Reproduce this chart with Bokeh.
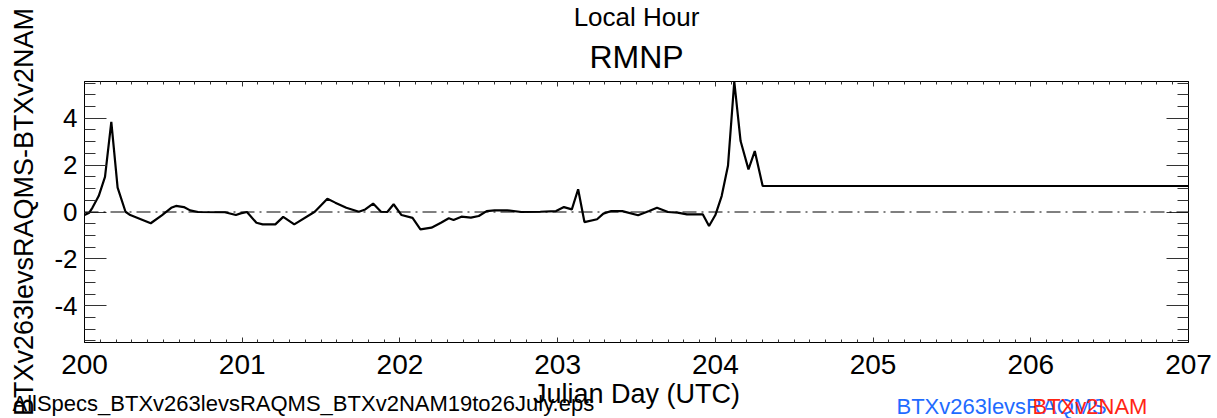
import math
from bokeh.plotting import figure
from bokeh.models import (Range1d, LinearAxis, SingleIntervalTicker, Span, Title,
                          ColumnDataSource, CustomJSTickFormatter)
from bokeh.embed import file_html
from bokeh.resources import INLINE

# ---------------- data ----------------
julian_day = [200.00, 200.03, 200.05, 200.09, 200.13, 200.17, 200.21, 200.26, 200.29,
              200.42, 200.49, 200.55, 200.58, 200.63, 200.67, 200.72, 200.89, 200.96,
              200.99, 201.03, 201.09, 201.13, 201.21, 201.26, 201.33, 201.46, 201.54,
              201.59, 201.66, 201.74, 201.78, 201.83, 201.88, 201.92, 201.96, 202.01,
              202.08, 202.13, 202.20, 202.26, 202.31, 202.34, 202.39, 202.45, 202.50,
              202.55, 202.60, 202.68, 202.77, 202.89, 202.99, 203.04, 203.09, 203.13,
              203.17, 203.25, 203.29, 203.34, 203.41, 203.51, 203.58, 203.63, 203.70,
              203.76, 203.82, 203.92, 203.96, 204.00, 204.04, 204.08, 204.12, 204.16,
              204.21, 204.25, 204.30, 207.00]
diff_value = [-0.13, -0.03, 0.18, 0.68, 1.50, 3.85, 1.04, 0.01, -0.13,
              -0.48, -0.14, 0.18, 0.26, 0.21, 0.07, 0.00, -0.01, -0.13,
              -0.06, 0.00, -0.46, -0.53, -0.53, -0.21, -0.53, 0.01, 0.57,
              0.40, 0.18, 0.01, 0.11, 0.36, 0.01, 0.00, 0.33, -0.13,
              -0.25, -0.74, -0.67, -0.46, -0.27, -0.34, -0.20, -0.24, -0.17,
              0.04, 0.07, 0.07, 0.00, 0.01, 0.04, 0.21, 0.11, 0.97,
              -0.43, -0.31, -0.07, 0.04, 0.04, -0.14, 0.04, 0.18, 0.00,
              -0.03, -0.10, -0.10, -0.60, -0.13, 0.68, 1.97, 5.57, 3.03,
              1.82, 2.60, 1.11, 1.11]

x_start, x_end = 200, 207
title_text = "RMNP"
top_axis_title = "Local Hour"
x_axis_title = "Julian Day (UTC)"
y_axis_title = "BTXv263levsRAQMS-BTXv2NAM"
file_note = "AllSpecs_BTXv263levsRAQMS_BTXv2NAM19to26July.eps"
legend_names = ["BTXv263levsRAQMS", "BTXv2NAM"]
legend_colors = ["#1f6bff", "#ff2414"]

FONT = "Liberation Sans"

# ---------------- layout ----------------
W, H = 1217, 418
BL, BR, BT, BB = 84, 29, 81, 76
ymax = max(abs(v) for v in diff_value)

p = figure(width=W, height=H, output_backend="svg", toolbar_location=None,
           x_range=Range1d(x_start, x_end), y_range=Range1d(-ymax, ymax),
           min_border_left=BL, min_border_right=BR, min_border_top=BT,
           min_border_bottom=BB, x_axis_location=None, y_axis_location=None)
p.title.visible = False
p.grid.visible = False
p.outline_line_color = "black"
p.outline_line_width = 1
p.background_fill_color = "white"
p.border_fill_color = "white"

blank = CustomJSTickFormatter(code="return ''")
intfmt = CustomJSTickFormatter(code="return tick.toFixed(0)")


def style_axis(ax, major_in, minor_in):
    ax.major_tick_in = major_in
    ax.major_tick_out = 0
    ax.minor_tick_in = minor_in
    ax.minor_tick_out = 0
    ax.axis_line_color = "black"
    ax.major_tick_line_color = "#333333"
    ax.minor_tick_line_color = "#333333"
    ax.major_label_text_font = FONT
    ax.major_label_text_color = "black"
    ax.axis_label_text_font = FONT
    ax.axis_label_text_font_style = "normal"
    ax.axis_label_text_color = "black"


XLAB_STANDOFF = 12
XLAB_SIZE = 28
xb = LinearAxis(ticker=SingleIntervalTicker(interval=1, num_minor_ticks=10), formatter=intfmt)
style_axis(xb, 5, 3)
xb.major_label_text_font_size = f"{XLAB_SIZE}px"
xb.major_label_standoff = XLAB_STANDOFF
p.add_layout(xb, "below")

xt = LinearAxis(ticker=SingleIntervalTicker(interval=1, num_minor_ticks=10), formatter=blank)
style_axis(xt, 5, 3)
xt.major_label_standoff = 0
xt.major_label_text_font_size = "1px"
p.add_layout(xt, "above")

yl = LinearAxis(ticker=SingleIntervalTicker(interval=2, num_minor_ticks=4), formatter=intfmt)
style_axis(yl, 22, 11)
yl.major_label_text_font_size = "26px"
yl.major_label_standoff = 7
yl.axis_label = y_axis_title
yl.axis_label_text_font_size = "27px"
yl.axis_label_standoff = 12
p.add_layout(yl, "left")

yr = LinearAxis(ticker=SingleIntervalTicker(interval=2, num_minor_ticks=4), formatter=blank)
style_axis(yr, 22, 11)
yr.major_label_standoff = 0
yr.major_label_text_font_size = "1px"
p.add_layout(yr, "right")

# zero reference line
p.add_layout(Span(location=0, dimension="width", line_color="black",
                  line_width=1, line_dash="14 5 2 5"))

src = ColumnDataSource(dict(x=julian_day, y=diff_value))
p.line("x", "y", source=src, line_color="black", line_width=2.2)

# ---------------- side-panel texts (Titles stacked from the frame outward) ----------------
ASC, DESC = 0.905, 0.212          # font metrics (em fractions)
AXIS_SIZE_CORR = -9               # measured difference of the axis panel height


def box_h(size):                  # Title box height before standoff
    return 2 + (ASC + DESC) * size


def mid_from_baseline(baseline, size):
    return baseline - (ASC - DESC) / 2 * size


def add_spacer(side, start, height, size=4):
    p.add_layout(Title(text=" ", align="left", vertical_align="middle",
                       standoff=height - box_h(size), text_font=FONT,
                       text_font_size=f"{size}px", text_color="white"), side)
    return start + height if side == "below" else start - height


def add_title(side, text, size, start, baseline, align="center", left_px=None,
              color="black", zero=False):
    """Place a Title whose panel slot begins at `start` (page px, measured
    outward from the frame) so its baseline lands at `baseline`.
    Returns where the next slot starts."""
    m = mid_from_baseline(baseline, size)
    if side == "below":
        h = 0.0 if zero else max(0.0, 2 * (m - start))
        nxt = start + h
    else:  # above
        h = 0.0 if zero else max(0.0, 2 * (start - m))
        nxt = start - h
    t = Title(text=text, align=align, vertical_align="middle",
              standoff=h - box_h(size), text_font=FONT,
              text_font_size=f"{size}px", text_font_style="normal",
              text_color=color)
    if left_px is not None:
        t.offset = left_px - BL
    p.add_layout(t, side)
    return nxt


LEGEND_BASE = 412.5
# below the frame: x tick labels take standoff + text height
y_cursor = (H - BB) + XLAB_STANDOFF + (ASC + DESC) * XLAB_SIZE + AXIS_SIZE_CORR
y_cursor = add_spacer("below", y_cursor, 10)
legend_mid = mid_from_baseline(LEGEND_BASE, 22)
y_cursor = add_title("below", x_axis_title, 27, y_cursor, 402)
# filename slot chosen so the following zero-height slots sit on the legend line
fn_mid = (y_cursor + legend_mid) / 2
fn_base = fn_mid + (ASC - DESC) / 2 * 22
y_cursor = add_title("below", file_note, 22, y_cursor, fn_base, align="left", left_px=12)
add_title("below", legend_names[0], 22, y_cursor, LEGEND_BASE, align="left", left_px=896,
          color=legend_colors[0], zero=True)
add_title("below", legend_names[1], 22, y_cursor, LEGEND_BASE, align="left", left_px=1032,
          color=legend_colors[1], zero=True)

# above the frame
top_cursor = BT - 1
top_cursor = add_title("above", title_text, 32, top_cursor, 66.5)
lh_h = top_cursor - 1.0
lh_mid = top_cursor - lh_h / 2
add_title("above", top_axis_title, 26, top_cursor, lh_mid + (ASC - DESC) / 2 * 26)

open("out.html", "w").write(file_html(p, INLINE))
